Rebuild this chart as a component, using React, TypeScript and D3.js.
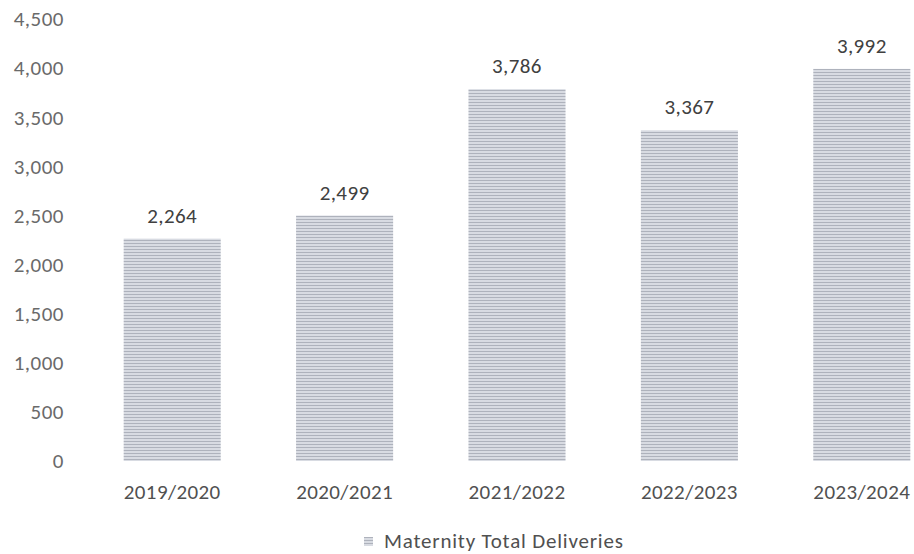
import React from "react";
import * as d3 from "d3";

const categories = ["2019/2020", "2020/2021", "2021/2022", "2022/2023", "2023/2024"];
const deliveries = [2264, 2499, 3786, 3367, 3992];
const yTicks = [0, 500, 1000, 1500, 2000, 2500, 3000, 3500, 4000, 4500];
const seriesName = "Maternity Total Deliveries";

const W = 914;
const H = 554;
const FONT = "Carlito, Lato, 'Open Sans', sans-serif";

export default function App() {
  const x = d3.scaleBand<string>().domain(categories).range([86, 948]).paddingInner(0.437).paddingOuter(0.2185);
  const y = d3.scaleLinear().domain([0, 4500]).range([461, 19]);
  const fmt = d3.format(",");

  return (
    <svg width={W} height={H} style={{ position: "absolute", left: 0, top: 0, background: "#fff" }}>
      <defs>
        <pattern id="stripes" width="6" height="3" patternUnits="userSpaceOnUse">
          <rect width="6" height="3" fill="#d8dbe2" />
          <rect y="0" width="6" height="1" fill="#aeb2bc" />
        </pattern>
      </defs>
      {yTicks.map((t) => (
        <text key={t} x={64} y={y(t)} dy="0.35em" textAnchor="end" fontFamily={FONT} fontSize={21} letterSpacing={0.5} fill="#6a6a6a">
          {fmt(t)}
        </text>
      ))}
      {categories.map((c, i) => (
        <g key={c}>
          <rect x={x(c)} y={y(deliveries[i])} width={x.bandwidth()} height={y(0) - y(deliveries[i])} fill="url(#stripes)" />
          <text x={x(c)! + x.bandwidth() / 2} y={y(deliveries[i]) - 16} textAnchor="middle" fontFamily={FONT} fontSize={21} letterSpacing={0.4} fill="#404040">
            {fmt(deliveries[i])}
          </text>
          <text x={x(c)! + x.bandwidth() / 2} y={492} dy="0.35em" textAnchor="middle" fontFamily={FONT} fontSize={21} letterSpacing={0.4} fill="#505050">
            {c}
          </text>
        </g>
      ))}
      <rect x={364} y={537} width={9} height={9} fill="url(#stripes)" />
      <text x={384} y={541} dy="0.35em" fontFamily={FONT} fontSize={21} letterSpacing={0.8} fill="#505050">
        {seriesName}
      </text>
    </svg>
  );
}
